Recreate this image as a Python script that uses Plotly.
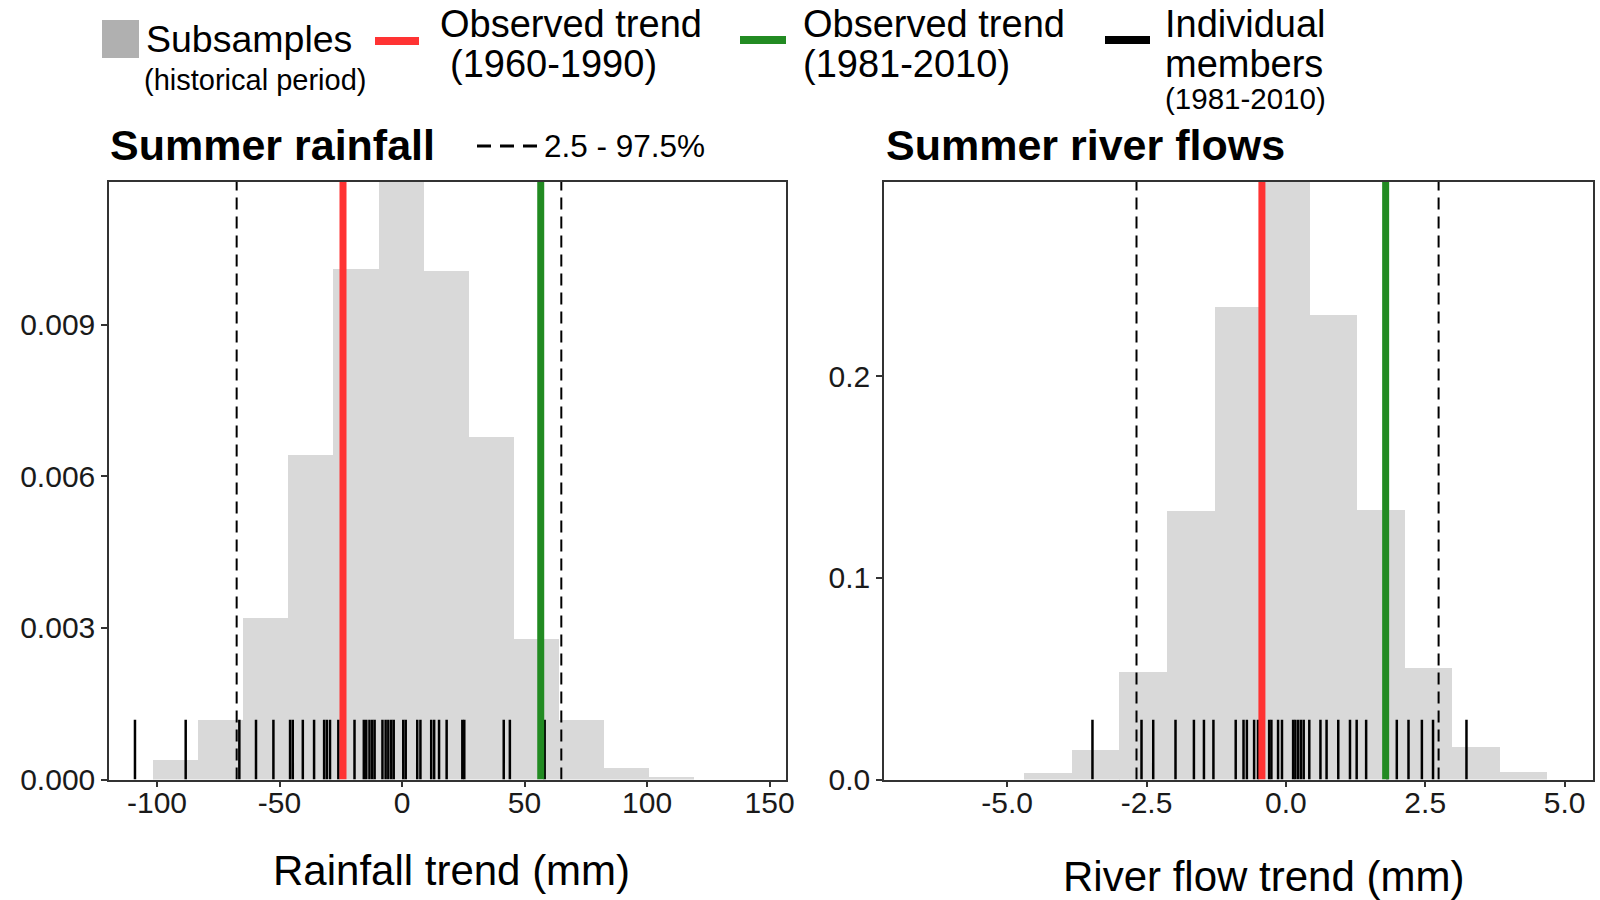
import plotly.graph_objects as go

# ---------------- data ----------------
rain_bin_centers = [-92.4, -74.0, -55.6, -37.2, -18.8, -0.4, 18.0, 36.4, 54.8, 73.2, 91.6, 110.0]
rain_density = [0.00038, 0.00117, 0.00319, 0.00642, 0.01009, 0.0121, 0.01005, 0.00678,
                0.00278, 0.00117, 0.00022, 0.00004]
rain_bin_width = 18.4
rain_obs_1960_1990 = -24.1
rain_obs_1981_2010 = 56.6
rain_pct = [-67.5, 65.0]
rain_members = [-109.0, -88.3, -66.4, -59.6, -52.5, -45.7, -44.6, -40.5, -35.9, -31.8, -30.7,
                -29.4, -26.0, -19.4, -15.6, -14.6, -13.3, -12.2, -11.2, -8.0, -6.7, -5.6, -4.4,
                -3.4, 0.5, 1.5, 6.2, 7.5, 11.9, 13.1, 15.1, 18.2, 24.6, 25.4, 41.5, 44.0, 58.2]

flow_bin_centers = [-4.265, -3.41, -2.56, -1.705, -0.853, 0.0, 0.853, 1.705, 2.56, 3.41, 4.265]
flow_density = [0.0030, 0.0147, 0.0532, 0.1331, 0.2344, 0.300, 0.2303, 0.1336, 0.0552, 0.0162, 0.0036]
flow_bin_width = 0.853
flow_obs_1960_1990 = -0.43
flow_obs_1981_2010 = 1.79
flow_pct = [-2.68, 2.74]
flow_members = [-3.47, -2.59, -2.38, -1.98, -1.65, -1.47, -1.30, -0.90, -0.76, -0.70, -0.57,
                -0.50, -0.30, -0.26, -0.14, -0.07, 0.13, 0.17, 0.22, 0.27, 0.32, 0.42, 0.62,
                0.73, 0.94, 1.15, 1.27, 1.44, 1.82, 1.99, 2.20, 2.44, 2.64, 3.24]

rain_xticks = [-100, -50, 0, 50, 100, 150]
rain_xticktext = ["-100", "-50", "0", "50", "100", "150"]
rain_yticks = [0.0, 0.003, 0.006, 0.009]
rain_yticktext = ["0.000", "0.003", "0.006", "0.009"]
flow_xticks = [-5.0, -2.5, 0.0, 2.5, 5.0]
flow_xticktext = ["-5.0", "-2.5", "0.0", "2.5", "5.0"]
flow_yticks = [0.0, 0.1, 0.2]
flow_yticktext = ["0.0", "0.1", "0.2"]

# ---------------- styling ----------------
W, H = 1600, 900
FONT = "Liberation Sans, Arial, sans-serif"
GREY = "#d9d9d9"
RED = "#ff3333"
GREEN = "#228b22"
AXC = "#333333"

RAIN_XR = [-119.6, 156.7]
RAIN_YR = [0.0, 0.01182]
FLOW_XR = [-7.21, 5.51]
FLOW_YR = [0.0, 0.2964]
RUG_FRAC = 0.1


def px(x):
    return x / W


def py(y):
    return 1 - y / H


fig = go.Figure()


def add_panel(xa, ya, centers, dens, bw, obs1, obs2, pct, members, yr):
    fig.add_trace(go.Bar(x=centers, y=dens, width=bw, marker=dict(color=GREY, line=dict(width=0)),
                         xaxis=xa, yaxis=ya, showlegend=False, hoverinfo="skip"))
    rug_h = RUG_FRAC * yr[1]
    rx, ry = [], []
    for m in members:
        rx += [m, m, None]
        ry += [0, rug_h, None]
    fig.add_trace(go.Scatter(x=rx, y=ry, mode="lines", line=dict(color="black", width=2.5),
                             xaxis=xa, yaxis=ya, showlegend=False, hoverinfo="skip"))
    for p in pct:
        fig.add_trace(go.Scatter(x=[p, p], y=[0, yr[1]], mode="lines",
                                 line=dict(color="black", width=2, dash="12px,7px"),
                                 xaxis=xa, yaxis=ya, showlegend=False, hoverinfo="skip"))
    for v, c in [(obs1, RED), (obs2, GREEN)]:
        fig.add_trace(go.Scatter(x=[v, v], y=[0, yr[1]], mode="lines",
                                 line=dict(color=c, width=7),
                                 xaxis=xa, yaxis=ya, showlegend=False, hoverinfo="skip"))


add_panel("x", "y", rain_bin_centers, rain_density, rain_bin_width, rain_obs_1960_1990,
          rain_obs_1981_2010, rain_pct, rain_members, RAIN_YR)
add_panel("x2", "y2", flow_bin_centers, flow_density, flow_bin_width, flow_obs_1960_1990,
          flow_obs_1981_2010, flow_pct, flow_members, FLOW_YR)

axis_common = dict(showline=True, mirror=True, linecolor=AXC, linewidth=1.5, ticks="outside",
                   ticklen=6, tickcolor=AXC, tickwidth=1.5, showgrid=False, zeroline=False,
                   automargin=False,
                   tickfont=dict(family=FONT, size=30, color="#1a1a1a"), fixedrange=True)

Y_DOM = [py(779.5), py(182)]

fig.update_layout(
    width=W, height=H, margin=dict(l=0, r=0, t=0, b=0, pad=0, autoexpand=False),
    paper_bgcolor="white", plot_bgcolor="white", bargap=0, barmode="overlay",
    xaxis=dict(domain=[px(109), px(786)], range=RAIN_XR, tickvals=rain_xticks,
               ticktext=rain_xticktext, anchor="y", ticklabelstandoff=-10, **axis_common),
    yaxis=dict(domain=Y_DOM, range=RAIN_YR, tickvals=rain_yticks, ticktext=rain_yticktext,
               anchor="x", **axis_common),
    xaxis2=dict(domain=[px(884), px(1593)], range=FLOW_XR, tickvals=flow_xticks,
                ticktext=flow_xticktext, anchor="y2", ticklabelstandoff=-10, **axis_common),
    yaxis2=dict(domain=Y_DOM, range=FLOW_YR, tickvals=flow_yticks, ticktext=flow_yticktext,
                anchor="x2", **axis_common),
)

annotations = []


def txt(text, x, y, size, xanchor="left", bold=False, yanchor="middle"):
    annotations.append(dict(text=("<b>%s</b>" % text) if bold else text, x=px(x), y=py(y),
                            xref="paper", yref="paper", showarrow=False, xanchor=xanchor,
                            yanchor=yanchor, font=dict(family=FONT, size=size, color="black")))


txt("Summer rainfall", 108, 145, 43, bold=True)
txt("Summer river flows", 884, 145, 43, bold=True)
txt("Rainfall trend (mm)", 452, 870, 42, xanchor="center")
txt("River flow trend (mm)", 1263, 876, 42, xanchor="center")
txt("2.5 - 97.5%", 542, 146, 31.5)
txt("Subsamples", 144, 39, 37.5)
txt("(historical period)", 142, 80, 29)
txt("Observed trend", 438, 24, 38)
txt("(1960-1990)", 448, 64, 38)
txt("Observed trend", 801, 24, 38)
txt("(1981-2010)", 801, 64, 38)
txt("Individual", 1163, 24, 38)
txt("members", 1163, 64, 38)
txt("(1981-2010)", 1163, 99, 29.5)

shapes = [
    dict(type="rect", xref="paper", yref="paper", x0=px(102), x1=px(139), y0=py(58), y1=py(20),
         fillcolor="#b0b0b0", line=dict(width=0)),
    dict(type="line", xref="paper", yref="paper", x0=px(375), x1=px(419), y0=py(41), y1=py(41),
         line=dict(color=RED, width=8)),
    dict(type="line", xref="paper", yref="paper", x0=px(740), x1=px(786), y0=py(40), y1=py(40),
         line=dict(color=GREEN, width=8)),
    dict(type="line", xref="paper", yref="paper", x0=px(1105), x1=px(1150), y0=py(40), y1=py(40),
         line=dict(color="black", width=8)),
    dict(type="line", xref="paper", yref="paper", x0=px(477), x1=px(537), y0=py(146), y1=py(146),
         line=dict(color="black", width=3, dash="14px,9px")),
]

fig.update_layout(annotations=annotations, shapes=shapes)
fig.write_html("out.html")
